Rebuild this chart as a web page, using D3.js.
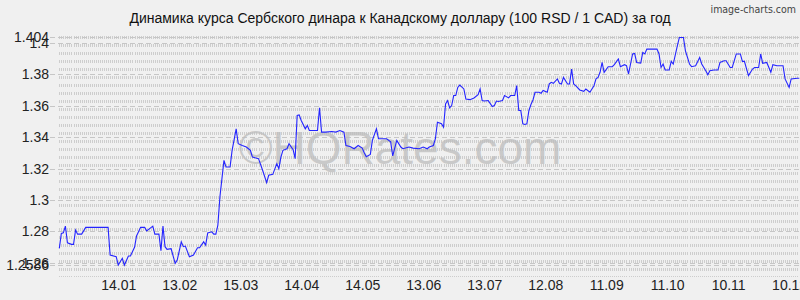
<!DOCTYPE html>
<html><head><meta charset="utf-8">
<script src="https://cdn.jsdelivr.net/npm/d3@7"></script>
<style>
html,body{margin:0;padding:0;background:#f0f0f0;}
svg{display:block;font-family:"Liberation Sans",Arial,sans-serif;}
</style></head>
<body><svg id="c" width="800" height="300"></svg>
<script>
const title = "Динамика курса Сербского динара к Канадскому доллару (100 RSD / 1 CAD) за год";
const startDate = "2017-12-16";
const endDay = 364;
const dayIndex = [0,1,2,3,4,6,7,8,9,11,13,24,25,28,29,31,32,34,35,37,38,40,42,43,46,47,49,50,51,52,53,55,57,58,60,61,62,64,66,68,69,71,72,73,75,76,77,78,79,81,82,84,85,87,88,90,92,94,95,98,100,102,103,105,107,108,109,110,112,113,115,116,117,118,119,121,122,123,125,127,128,129,131,134,136,138,140,141,143,145,147,149,150,151,153,154,156,157,159,161,163,164,166,168,169,172,174,177,179,181,182,184,185,186,188,189,190,191,192,193,194,195,196,197,199,200,202,204,206,207,208,209,211,213,214,215,216,218,219,221,222,224,225,226,227,228,229,230,231,232,233,234,236,237,238,240,241,242,243,245,246,247,248,250,251,252,253,254,256,258,259,261,263,264,265,266,267,268,270,272,273,275,276,278,279,280,282,283,284,286,287,288,289,294,295,296,297,298,300,301,302,304,305,307,308,310,311,313,315,316,318,319,320,322,324,325,327,328,330,331,333,335,336,337,339,341,342,344,345,346,348,350,351,353,356,357,359,360,363,364];
const rates = [1.2691,1.2787,1.2790,1.2833,1.2727,1.2717,1.2717,1.2808,1.2782,1.2782,1.2825,1.2825,1.2649,1.2638,1.2585,1.2628,1.2585,1.2643,1.2643,1.2698,1.2770,1.2825,1.2825,1.2803,1.2833,1.2782,1.2782,1.2676,1.2833,1.2702,1.2685,1.2689,1.2596,1.2617,1.2733,1.2702,1.2706,1.2638,1.2649,1.2695,1.2695,1.2733,1.2712,1.2790,1.2797,1.2782,1.2782,1.2839,1.3019,1.3252,1.3210,1.3210,1.3316,1.3453,1.3358,1.3347,1.3337,1.3316,1.3273,1.3263,1.3189,1.3110,1.3157,1.3163,1.3231,1.3199,1.3273,1.3316,1.3326,1.3358,1.3320,1.3263,1.3538,1.3542,1.3506,1.3453,1.3474,1.3442,1.3442,1.3442,1.3587,1.3432,1.3432,1.3436,1.3432,1.3442,1.3432,1.3347,1.3340,1.3326,1.3347,1.3330,1.3300,1.3275,1.3290,1.3379,1.3453,1.3390,1.3390,1.3390,1.3370,1.3280,1.3379,1.3337,1.3326,1.3337,1.3330,1.3326,1.3337,1.3326,1.3337,1.3347,1.3390,1.3495,1.3485,1.3463,1.3612,1.3633,1.3587,1.3601,1.3665,1.3665,1.3717,1.3732,1.3707,1.3643,1.3639,1.3650,1.3671,1.3707,1.3633,1.3630,1.3633,1.3595,1.3601,1.3630,1.3627,1.3633,1.3665,1.3650,1.3665,1.3665,1.3728,1.3570,1.3570,1.3485,1.3481,1.3485,1.3570,1.3608,1.3637,1.3686,1.3686,1.3680,1.3697,1.3686,1.3739,1.3749,1.3743,1.3771,1.3743,1.3739,1.3781,1.3739,1.3739,1.3834,1.3739,1.3728,1.3701,1.3692,1.3707,1.3686,1.3728,1.3771,1.3781,1.3813,1.3876,1.3813,1.3849,1.3849,1.3862,1.3898,1.3849,1.3862,1.3855,1.3803,1.3930,1.3933,1.3876,1.3872,1.3940,1.3930,1.3961,1.3961,1.3930,1.3844,1.3866,1.3828,1.3828,1.3883,1.3866,1.3982,1.4035,1.4035,1.3950,1.3866,1.3849,1.3855,1.3908,1.3866,1.3823,1.3798,1.3823,1.3828,1.3828,1.3876,1.3887,1.3887,1.3844,1.3844,1.3930,1.3930,1.3883,1.3883,1.3792,1.3834,1.3844,1.3844,1.3930,1.3870,1.3876,1.3813,1.3862,1.3855,1.3855,1.3771,1.3717,1.3771,1.3775,1.3775];
const xTickLabels = ["14.01","13.02","15.03","14.04","14.05","13.06","13.07","12.08","11.09","11.10","10.11","10.12"];
const tickYear = 2018;
const yTicks = [1.26,1.28,1.3,1.32,1.34,1.36,1.38,1.4];
const yMin = 1.2586, yMax = 1.404;

const svg = d3.select("#c");
const start = d3.timeParse("%Y-%m-%d")(startDate);
const end = d3.timeDay.offset(start, endDay);
const x = d3.scaleTime().domain([start, end]).range([59.3, 799.3]);
const y = d3.scaleLinear().domain([yMin, yMax]).range([264.9, 36.7]);

const plotTop = 36, plotBottom = 277;

// dotted texture (daily vertical grid)
const g0 = svg.append("g").attr("shape-rendering","crispEdges");
d3.range(0, endDay + 1).forEach(d => {
  const xx = Math.round(x(d3.timeDay.offset(start, d))) + 0.5;
  if (xx > 799) return;
  g0.append("line").attr("x1", xx).attr("x2", xx).attr("y1", plotTop).attr("y2", plotBottom)
    .attr("stroke", "#cdcdcd").attr("stroke-width", 1).attr("stroke-dasharray", "3,5");
});

// major dashed gridlines
const allY = yTicks.concat([yMin, yMax]);
svg.append("g").attr("shape-rendering","crispEdges").selectAll("line").data(allY).join("line")
  .attr("x1", 50).attr("x2", 799)
  .attr("y1", d => Math.round(y(d)) + 0.5).attr("y2", d => Math.round(y(d)) + 0.5)
  .attr("stroke", "#c6c6c6").attr("stroke-width", 1).attr("stroke-dasharray", "5,3");

// watermark
svg.append("text").attr("x", 400).attr("y", 164).attr("text-anchor", "middle")
  .attr("font-size", 46).attr("fill", "#bdbdbd").attr("fill-opacity", 0.75)
  .text("©HQRates.com");

// line
const data = dayIndex.map((d, i) => ({date: d3.timeDay.offset(start, d), v: rates[i]}));
svg.append("path").datum(data)
  .attr("fill", "none").attr("stroke", "#2424ff").attr("stroke-width", 1.1)
  .attr("d", d3.line().x(d => x(d.date)).y(d => y(d.v)));

// y axis
const yAxis = d3.axisLeft(y).tickValues(allY).tickSize(0).tickPadding(0)
  .tickFormat(d => d === yMin ? "1.2586" : d === yMax ? "1.404" : d3.format("")(+d.toFixed(3)));
const ya = svg.append("g").attr("transform", "translate(49,0)").call(yAxis);
ya.select(".domain").remove();
ya.selectAll("text").attr("font-size", 14).attr("fill", "#222").attr("font-family", "Liberation Sans, Arial, sans-serif");

// x axis
const parseTick = d3.timeParse("%d.%m.%Y");
const xTickDates = xTickLabels.map(l => parseTick(l + "." + tickYear));
const xAxis = d3.axisBottom(x).tickValues(xTickDates).tickSize(0).tickPadding(0)
  .tickFormat(d3.timeFormat("%d.%m"));
const xa = svg.append("g").attr("transform", "translate(0,280)").call(xAxis);
xa.select(".domain").remove();
xa.selectAll("text").attr("font-size", 14).attr("fill", "#222").attr("dy", "0.71em").attr("font-family", "Liberation Sans, Arial, sans-serif");

// title
svg.append("text").attr("x", 400).attr("y", 23).attr("text-anchor", "middle")
  .attr("font-size", 14).attr("fill", "#111").text(title);

// corner credit
svg.append("text").attr("x", 796).attr("y", 13).attr("text-anchor", "end")
  .attr("font-size", 10.5).attr("fill", "#444").attr("font-family", "DejaVu Sans Condensed, DejaVu Sans, sans-serif")
  .text("image-charts.com");
</script></body></html>
